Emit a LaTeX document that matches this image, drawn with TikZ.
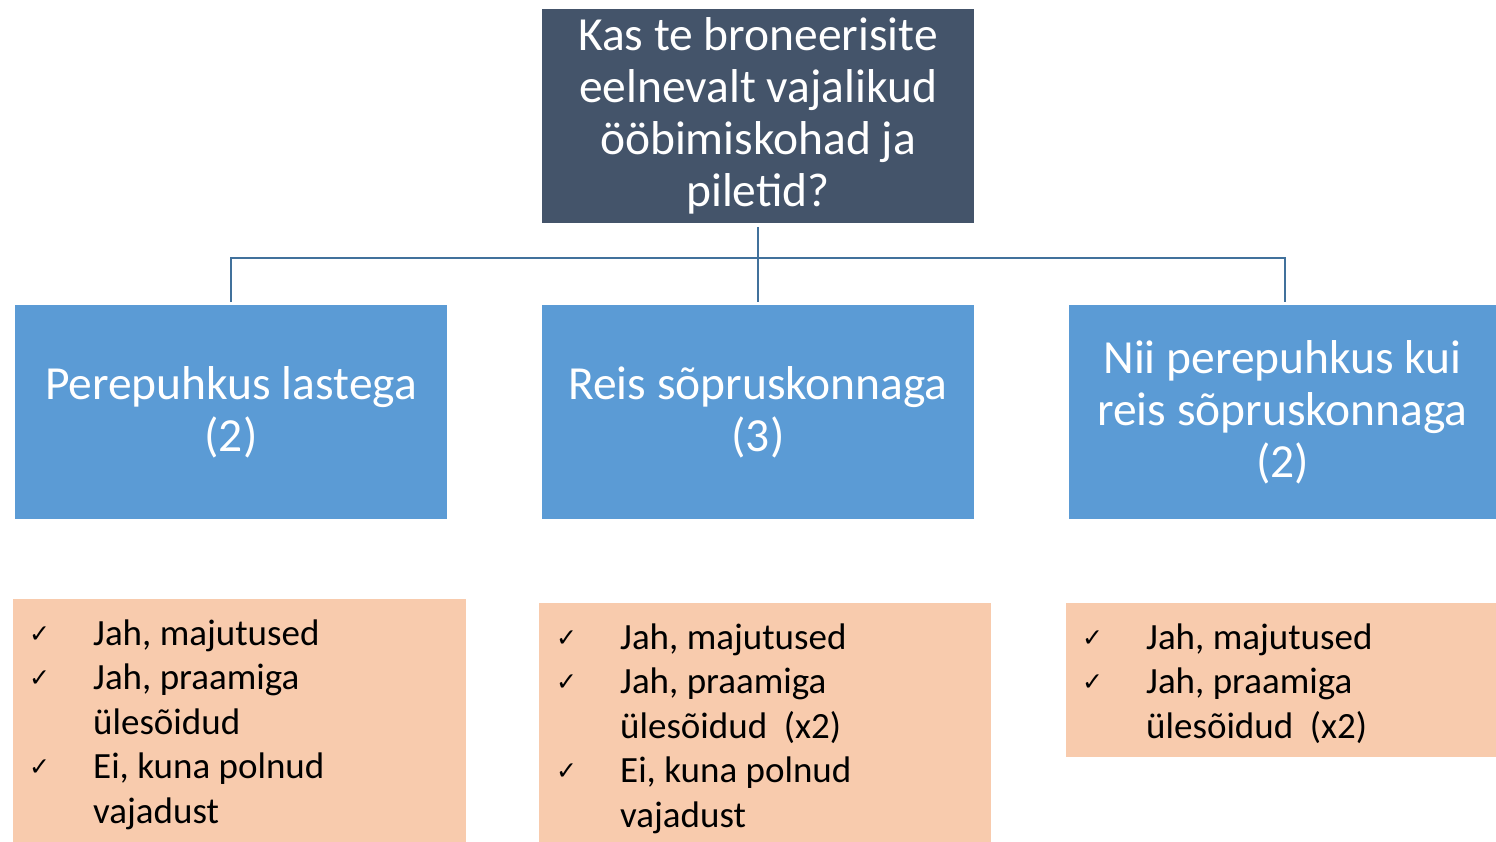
\documentclass[tikz,border=0pt]{standalone}
\usepackage{fontspec}
\setmainfont{Carlito}
\newfontfamily\symfont{DejaVu Sans}
\definecolor{slate}{HTML}{44546A}
\definecolor{boxblue}{HTML}{5B9BD5}
\definecolor{peach}{HTML}{F8CBAD}
\definecolor{connblue}{HTML}{41719C}
\begin{document}
\begin{tikzpicture}[x=1pt,y=-1pt,
  box/.style={rectangle, inner sep=0pt, outer sep=0pt, align=center, text=white,
    font=\fontsize{47.5}{52}\selectfont},
  topbox/.style={box, fill=slate},
  bluebox/.style={box, fill=boxblue},
  listbox/.style={rectangle, inner sep=0pt, outer sep=0pt, fill=peach},
  itemtext/.style={anchor=base west, inner sep=0pt, text=black,
    font=\fontsize{37}{44}\selectfont},
  chk/.style={anchor=base west, inner sep=0pt, text=black,
    font=\symfont\fontsize{25}{25}\selectfont},
  conn/.style={draw=connblue, line width=2.6pt}
]
\useasboundingbox (0,0) rectangle (1496,842);

% top question
\node[topbox, minimum width=432pt, minimum height=214pt] (top) at (758,116)
  {Kas te broneerisite\\eelnevalt vajalikud\\ööbimiskohad ja\\piletid?};

% category boxes
\node[bluebox, minimum width=432pt, minimum height=214pt] (b1) at (231,412)
  {Perepuhkus lastega\\(2)};
\node[bluebox, minimum width=432pt, minimum height=214pt] (b2) at (758,412)
  {Reis sõpruskonnaga\\(3)};
\node[bluebox, minimum width=427pt, minimum height=214pt] (b3) at (1282.5,412)
  {Nii perepuhkus kui\\reis sõpruskonnaga\\(2)};

% connectors
\coordinate (hub) at (758,258);
\draw[conn] ([yshift=-4pt]top.south) -- ([yshift=3pt]b2.north);
\draw[conn] ([yshift=3pt]b1.north) |- (hub) -| ([xshift=2.5pt,yshift=3pt]b3.north);

% answer boxes
\node[listbox, minimum width=453pt, minimum height=243pt] (o1) at (239.5,720.5) {};
\node[listbox, minimum width=452pt, minimum height=239pt] (o2) at (765,722.5) {};
\node[listbox, minimum width=430pt, minimum height=154pt] (o3) at (1281,680) {};

% list 1
\node[chk] (c1a) at (29,642) {✓};
\node[itemtext] (t1a) at (93,645) {Jah, majutused};
\node[chk] (c1b) at (29,686.5) {✓};
\node[itemtext] (t1b) at (93,689.5) {Jah, praamiga};
\node[itemtext] (t1c) at (93,734) {ülesõidud};
\node[chk] (c1d) at (29,775.5) {✓};
\node[itemtext] (t1d) at (93,778.5) {Ei, kuna polnud};
\node[itemtext] (t1e) at (93,823) {vajadust};

% list 2
\node[chk] (c2a) at (556,646) {✓};
\node[itemtext] (t2a) at (620,649) {Jah, majutused};
\node[chk] (c2b) at (556,690.5) {✓};
\node[itemtext] (t2b) at (620,693.5) {Jah, praamiga};
\node[itemtext] (t2c) at (620,738) {ülesõidud\ \ (x2)};
\node[chk] (c2d) at (556,779.5) {✓};
\node[itemtext] (t2d) at (620,782.5) {Ei, kuna polnud};
\node[itemtext] (t2e) at (620,827) {vajadust};

% list 3
\node[chk] (c3a) at (1082,646) {✓};
\node[itemtext] (t3a) at (1146,649) {Jah, majutused};
\node[chk] (c3b) at (1082,690.5) {✓};
\node[itemtext] (t3b) at (1146,693.5) {Jah, praamiga};
\node[itemtext] (t3c) at (1146,738) {ülesõidud\ \ (x2)};
\end{tikzpicture}
\end{document}
